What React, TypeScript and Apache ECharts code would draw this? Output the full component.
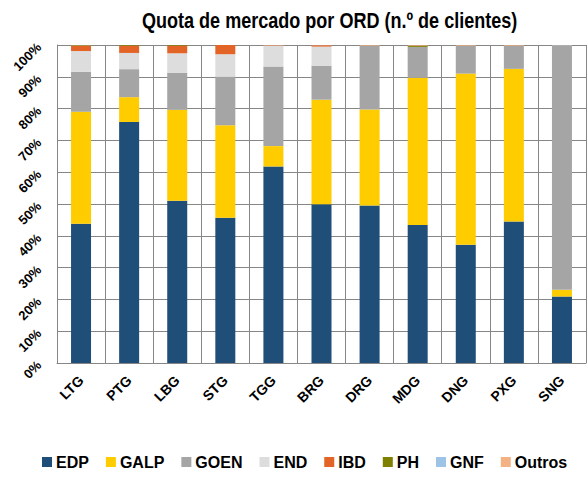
import React, { useEffect, useRef } from "react";
import * as echarts from "echarts";

const categories = ["LTG", "PTG", "LBG", "STG", "TGG", "BRG", "DRG", "MDG", "DNG", "PXG", "SNG"];
const edp = [43.8, 75.8, 51.0, 45.7, 61.8, 49.9, 49.5, 43.4, 37.2, 44.5, 20.9];
const galp = [35.2, 7.8, 28.6, 29.1, 6.4, 32.9, 30.2, 46.3, 53.8, 48.0, 2.1];
const goen = [12.6, 8.8, 11.7, 15.3, 25.0, 10.7, 20.1, 9.7, 8.8, 7.3, 76.7];
const endS = [6.5, 5.1, 6.1, 7.0, 6.6, 6.0, 0, 0, 0, 0, 0];
const ibd = [1.6, 2.3, 2.4, 2.9, 0.1, 0.4, 0, 0, 0, 0, 0];
const ph = [0.2, 0.2, 0.2, 0, 0, 0, 0, 0.4, 0, 0, 0];
const gnf = [0, 0, 0, 0, 0, 0, 0, 0, 0, 0, 0.2];
const outros = [0.1, 0, 0, 0, 0.1, 0.1, 0.2, 0.2, 0.2, 0.2, 0.1];

const seriesNames = ["EDP", "GALP", "GOEN", "END", "IBD", "PH", "GNF", "Outros"];
const seriesData = [edp, galp, goen, endS, ibd, ph, gnf, outros];
const seriesColors = ["#1F4E79", "#FFCC00", "#A5A5A5", "#DDDDDD", "#E36427", "#7F7F00", "#9DC3E6", "#F4B183"];
const yTicks = [0, 10, 20, 30, 40, 50, 60, 70, 80, 90, 100];
const titleText = "Quota de mercado por ORD (n.º de clientes)";

const FONT = "'Liberation Sans', Arial, sans-serif";

export default function App() {
  const ref = useRef<HTMLDivElement>(null);
  useEffect(() => {
    if (!ref.current) return;
    const chart = echarts.init(ref.current, undefined, { renderer: "svg" });
    chart.setOption({
      animation: false,
      graphic: [
        {
          type: "text",
          x: 142,
          y: 9,
          scaleX: 0.82,
          style: {
            text: titleText,
            font: `bold 22px ${FONT}`,
            fill: "#000",
            textAlign: "left",
            textVerticalAlign: "top",
          },
        },
      ],
      legend: {
        data: seriesNames,
        top: 454,
        left: 42,
        padding: 0,
        itemWidth: 10,
        itemHeight: 10,
        itemGap: 17,
        icon: "rect",
        textStyle: { fontFamily: FONT, fontSize: 16, fontWeight: "bold", color: "#000", padding: [0, 0, 0, -1] },
      },
      grid: { left: 57, right: 1, top: 45, bottom: 115, containLabel: false },
      xAxis: {
        type: "category",
        data: categories,
        axisLine: { show: true, lineStyle: { color: "#868686", width: 1 } },
        axisTick: { show: false },
        splitLine: { show: true, interval: 0, lineStyle: { color: "#868686", width: 1 } },
        axisLabel: {
          rotate: 45,
          interval: 0,
          margin: 15,
          fontFamily: FONT,
          fontSize: 14,
          fontWeight: "bold",
          color: "#000",
        },
      },
      yAxis: {
        type: "value",
        min: yTicks[0],
        max: yTicks[yTicks.length - 1],
        interval: 10,
        axisLine: { show: true, lineStyle: { color: "#868686", width: 1 } },
        axisTick: { show: false },
        splitLine: { show: true, lineStyle: { color: "#868686", width: 1 } },
        axisLabel: {
          formatter: "{value}%",
          rotate: 45,
          margin: 18,
          fontFamily: FONT,
          fontSize: 13,
          fontWeight: "bold",
          color: "#000",
        },
      },
      series: seriesNames.map((name, i) => ({
        name,
        type: "bar",
        stack: "total",
        barWidth: 20,
        data: seriesData[i],
        itemStyle: { color: seriesColors[i] },
      })),
    });
    return () => chart.dispose();
  }, []);
  return (
    <div
      ref={ref}
      style={{ position: "fixed", left: 0, top: 0, width: 587, height: 478, background: "#fff" }}
    />
  );
}
